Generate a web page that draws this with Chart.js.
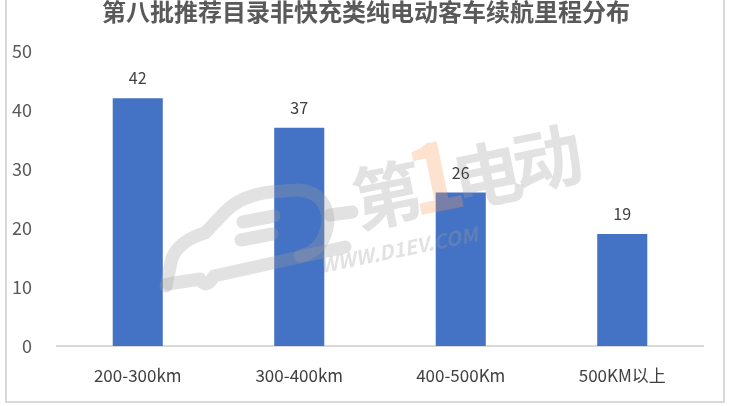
<!DOCTYPE html>
<html>
<head>
<meta charset="utf-8">
<script src="https://cdn.jsdelivr.net/npm/chart.js@4.4.1/dist/chart.umd.min.js"></script>
<style>
  html, body { margin: 0; padding: 0; background: #fff; }
  #wrap { position: relative; width: 732px; height: 406px; overflow: hidden; }
  #frame { position: absolute; left: 5px; top: -4px; width: 720px; height: 407px;
           border: 2px solid #d9d9d9; box-sizing: border-box; }
  canvas { position: absolute; left: 0; top: 0; }
</style>
</head>
<body>
<div id="wrap">
  <div id="frame"></div>
  <canvas id="rangeChart" width="732" height="406"></canvas>
</div>
<script>
// data
const chartTitle = '第八批推荐目录非快充类纯电动客车续航里程分布';
const categories = ['200-300km', '300-400km', '400-500Km', '500KM以上'];
const counts = [42, 37, 26, 19];
const yTicks = [0, 10, 20, 30, 40, 50];

const FONT = '"Noto Sans CJK SC", "Microsoft YaHei", sans-serif';

// value labels above each bar
const valueLabels = {
  id: 'valueLabels',
  afterDatasetsDraw(chart) {
    const ctx = chart.ctx;
    const meta = chart.getDatasetMeta(0);
    ctx.save();
    ctx.font = '16px ' + FONT;
    ctx.fillStyle = '#404040';
    ctx.textAlign = 'center';
    ctx.textBaseline = 'middle';
    meta.data.forEach((bar, i) => {
      ctx.fillText(counts[i], bar.x, bar.y - 20);
    });
    ctx.restore();
  }
};

// faint site watermark over the plot
const watermark = {
  id: 'watermark',
  afterDatasetsDraw(chart) {
    const ctx = chart.ctx;
    ctx.save();
    ctx.globalAlpha = 0.3;
    // car outline
    ctx.strokeStyle = '#a0a0a0';
    ctx.lineWidth = 13;
    ctx.lineJoin = 'round';
    ctx.lineCap = 'round';
    ctx.beginPath();
    ctx.moveTo(166, 286);
    ctx.lineTo(172, 258);
    ctx.quadraticCurveTo(180, 240, 205, 233);
    ctx.lineTo(225, 212);
    ctx.quadraticCurveTo(240, 196, 270, 192);
    ctx.lineTo(298, 190);
    ctx.quadraticCurveTo(326, 192, 328, 220);
    ctx.quadraticCurveTo(326, 250, 300, 256);
    ctx.stroke();
    ctx.beginPath();
    ctx.moveTo(168, 284); ctx.lineTo(200, 279);
    ctx.quadraticCurveTo(206, 290, 214, 276);
    ctx.lineTo(345, 247);
    ctx.stroke();
    ctx.beginPath();
    ctx.moveTo(243, 222); ctx.lineTo(274, 216);
    ctx.moveTo(241, 240); ctx.lineTo(272, 234);
    ctx.moveTo(330, 215); ctx.lineTo(352, 212);
    ctx.stroke();
    // logo text
    ctx.translate(465, 175);
    ctx.rotate(-0.2);
    ctx.textBaseline = 'middle';
    ctx.textAlign = 'center';
    ctx.font = 'bold 70px ' + FONT;
    ctx.fillStyle = '#a0a0a0';
    ctx.fillText('第', -80, 4);
    ctx.fillText('电', 22, 4);
    ctx.fillText('动', 84, 0);
    ctx.fillStyle = '#f5a060';
    ctx.font = 'bold 96px ' + FONT;
    ctx.fillText('1', -30, -6);
    ctx.fillStyle = '#a0a0a0';
    ctx.font = 'italic bold 20px ' + FONT;
    ctx.fillText('WWW.D1EV.COM', -80, 60);
    ctx.restore();
  }
};

new Chart(document.getElementById('rangeChart'), {
  type: 'bar',
  data: {
    labels: categories,
    datasets: [{
      data: counts,
      backgroundColor: '#4472C4',
      barPercentage: 0.31,
      categoryPercentage: 1.0
    }]
  },
  options: {
    responsive: false,
    animation: false,
    layout: { padding: 0 },
    plugins: {
      legend: { display: false },
      tooltip: { enabled: false },
      title: {
        display: true,
        text: chartTitle,
        color: '#595959',
        font: { family: FONT, size: 24, weight: 'bold', lineHeight: 1.0 },
        padding: { top: 0, bottom: 27 }
      }
    },
    scales: {
      x: {
        grid: { display: false },
        border: { display: true, color: '#d9d9d9', width: 2 },
        ticks: { color: '#404040', padding: 11, font: { family: FONT, size: 17 } },
        afterFit(scale) { scale.height = 60; }
      },
      y: {
        min: 0,
        max: 50,
        afterBuildTicks(scale) { scale.ticks = yTicks.map(v => ({ value: v })); },
        grid: { display: false },
        border: { display: false },
        ticks: { color: '#595959', padding: 17, font: { family: FONT, size: 18 } },
        afterFit(scale) { scale.width = 57; }
      },
      // empty right-hand spacer so the plot ends where the reference does
      yRight: {
        position: 'right',
        grid: { display: false },
        border: { display: false },
        ticks: { display: false },
        afterFit(scale) { scale.width = 29; }
      }
    }
  },
  plugins: [watermark, valueLabels]
});
</script>
</body>
</html>
